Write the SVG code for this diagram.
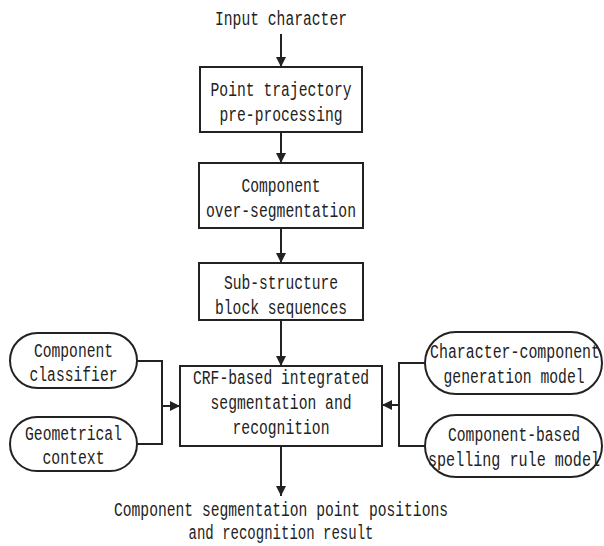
<svg xmlns="http://www.w3.org/2000/svg" width="604" height="546" viewBox="0 0 604 546">
<style>
text{font-family:"Liberation Mono","DejaVu Sans Mono",monospace;font-size:20px;fill:#222;text-anchor:middle}
.b{fill:#fff;stroke:#222;stroke-width:2}
.c{fill:none;stroke:#222;stroke-width:2}
</style>
<defs>
<marker id="ah" viewBox="0 0 10 10" refX="10" refY="5" markerWidth="10" markerHeight="10" markerUnits="userSpaceOnUse" orient="auto">
<path d="M0,0L10,5L0,10z" fill="#222"/>
</marker>
</defs>
<rect width="604" height="546" fill="#fff"/>
<g id="connectors">
<line class="c" x1="281" y1="34" x2="281" y2="67" marker-end="url(#ah)"/>
<line class="c" x1="281" y1="132" x2="281" y2="163" marker-end="url(#ah)"/>
<line class="c" x1="281" y1="228" x2="281" y2="263" marker-end="url(#ah)"/>
<line class="c" x1="281" y1="320" x2="281" y2="366" marker-end="url(#ah)"/>
<line class="c" x1="281" y1="446" x2="281" y2="496" marker-end="url(#ah)"/>
<polyline class="c" points="137,361 162,361 162,444 137,444"/>
<line class="c" x1="162" y1="406" x2="180" y2="406" marker-end="url(#ah)"/>
<polyline class="c" points="425,363 399,363 399,446 425,446"/>
<line class="c" x1="399" y1="405" x2="382" y2="405" marker-end="url(#ah)"/>
</g>
<g id="input"><text x="281" y="25" textLength="132" lengthAdjust="spacingAndGlyphs">Input character</text></g>
<g id="preproc">
<rect class="b" x="200" y="67" width="162" height="65"/>
<text x="281" y="96" textLength="141" lengthAdjust="spacingAndGlyphs">Point trajectory</text>
<text x="281" y="121" textLength="123" lengthAdjust="spacingAndGlyphs">pre-processing</text>
</g>
<g id="overseg">
<rect class="b" x="199" y="163" width="164" height="65"/>
<text x="281" y="192" textLength="79" lengthAdjust="spacingAndGlyphs">Component</text>
<text x="281" y="217" textLength="150" lengthAdjust="spacingAndGlyphs">over-segmentation</text>
</g>
<g id="substructure">
<rect class="b" x="199" y="263" width="164" height="57"/>
<text x="281" y="289" textLength="114" lengthAdjust="spacingAndGlyphs">Sub-structure</text>
<text x="281" y="314" textLength="132" lengthAdjust="spacingAndGlyphs">block sequences</text>
</g>
<g id="crf">
<rect class="b" x="180" y="366" width="202" height="80"/>
<text x="281" y="384" textLength="176" lengthAdjust="spacingAndGlyphs">CRF-based integrated</text>
<text x="281" y="409" textLength="141" lengthAdjust="spacingAndGlyphs">segmentation and</text>
<text x="281" y="434" textLength="97" lengthAdjust="spacingAndGlyphs">recognition</text>
</g>
<g id="classifier">
<rect class="b" x="10" y="333" width="127" height="55" rx="27.5"/>
<text x="73.5" y="357" textLength="79" lengthAdjust="spacingAndGlyphs">Component</text>
<text x="73.5" y="381" textLength="88" lengthAdjust="spacingAndGlyphs">classifier</text>
</g>
<g id="geometric">
<rect class="b" x="10" y="417" width="127" height="54" rx="27"/>
<text x="73.5" y="440" textLength="97" lengthAdjust="spacingAndGlyphs">Geometrical</text>
<text x="73.5" y="464" textLength="62" lengthAdjust="spacingAndGlyphs">context</text>
</g>
<g id="chargen">
<rect class="b" x="425" y="332" width="177" height="62" rx="31"/>
<text x="515" y="358" textLength="170" lengthAdjust="spacingAndGlyphs">Character-component</text>
<text x="514" y="383" textLength="141" lengthAdjust="spacingAndGlyphs">generation model</text>
</g>
<g id="spelling">
<rect class="b" x="425" y="415" width="177" height="62" rx="31"/>
<text x="514" y="441" textLength="132" lengthAdjust="spacingAndGlyphs">Component-based</text>
<text x="514" y="466" textLength="172" lengthAdjust="spacingAndGlyphs">spelling rule model</text>
</g>
<g id="output">
<text x="281" y="516" textLength="334" lengthAdjust="spacingAndGlyphs">Component segmentation point positions</text>
<text x="281" y="539" textLength="185" lengthAdjust="spacingAndGlyphs">and recognition result</text>
</g>
</svg>
